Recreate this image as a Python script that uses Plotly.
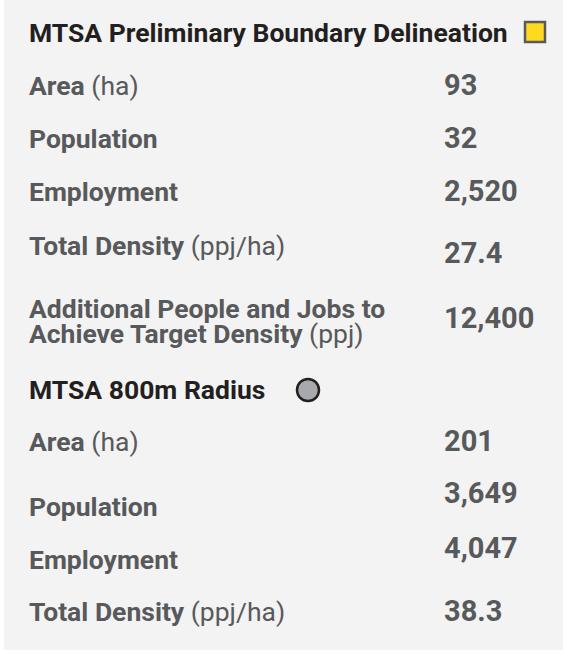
import plotly.graph_objects as go

# ---- data ----
section_titles = ["MTSA Preliminary Boundary Delineation", "MTSA 800m Radius"]

s1_labels = ["Area", "Population", "Employment", "Total Density",
             "Additional People and Jobs to\nAchieve Target Density"]
s1_units = ["(ha)", "", "", "(ppj/ha)", "(ppj)"]
s1_values = [93, 32, 2520, 27.4, 12400]

s2_labels = ["Area", "Population", "Employment", "Total Density"]
s2_units = ["(ha)", "", "", "(ppj/ha)"]
s2_values = [201, 3649, 4047, 38.3]

# ---- layout positions (pixels) ----
W, H = 563, 656
FONT = "Roboto, Lato, sans-serif"
LABEL_X = 27
VALUE_X = 442
title_y = [32, 389]
s1_label_y = [85, 138, 191, 245, 308]
s1_value_y = [85, 138, 191, 253, 318]
s2_label_y = [441, 506, 559, 611]
s2_value_y = [441, 493, 548, 611]
LINE_H = 25

TITLE_COL = "#231f20"
TEXT_COL = "#58595b"


def fmt(v):
    return f"{v:,}"


fig = go.Figure()
annotations = []


def add_text(x, y, text, color, size=25):
    annotations.append(dict(x=x, y=y, xref="x", yref="y", text=text,
                            showarrow=False, xanchor="left", yanchor="middle",
                            font=dict(family=FONT, size=size, color=color)))


for t, y in zip(section_titles, title_y):
    add_text(LABEL_X, y, f"<b>{t}</b>", TITLE_COL, 26.5)


def add_section(labels, units, values, label_ys, value_ys):
    for lab, unit, val, ly, vy in zip(labels, units, values, label_ys, value_ys):
        lines = lab.split("\n")
        for i, line in enumerate(lines):
            txt = f"<b>{line}</b>"
            if i == len(lines) - 1 and unit:
                txt += f" {unit}"
            add_text(LABEL_X, ly + i * LINE_H, txt, TEXT_COL, 26.5)
        add_text(VALUE_X, vy, f"<b>{fmt(val)}</b>", TEXT_COL, 29)


add_section(s1_labels, s1_units, s1_values, s1_label_y, s1_value_y)
add_section(s2_labels, s2_units, s2_values, s2_label_y, s2_value_y)

# legend markers
fig.add_trace(go.Scatter(x=[535], y=[32], mode="markers",
                         marker=dict(symbol="square", size=20, color="#ffd91f",
                                     line=dict(color="#58595b", width=2.5)),
                         hoverinfo="skip"))
fig.add_trace(go.Scatter(x=[308], y=[390], mode="markers",
                         marker=dict(symbol="circle", size=22, color="#a7a9ac",
                                     line=dict(color="#231f20", width=2.5)),
                         hoverinfo="skip"))

fig.update_layout(
    width=W, height=H,
    margin=dict(l=0, r=0, t=0, b=0),
    paper_bgcolor="white", plot_bgcolor="white",
    showlegend=False,
    xaxis=dict(range=[0, W], visible=False, fixedrange=True),
    yaxis=dict(range=[H, 0], visible=False, fixedrange=True),
    annotations=annotations,
    shapes=[dict(type="rect", xref="x", yref="y", x0=4, x1=W, y0=0, y1=650,
                 fillcolor="#f3f3f3", line=dict(width=0), layer="below")],
)

fig.write_html("out.html", config={"displayModeBar": False},
               post_script="document.body.style.margin='0';")
